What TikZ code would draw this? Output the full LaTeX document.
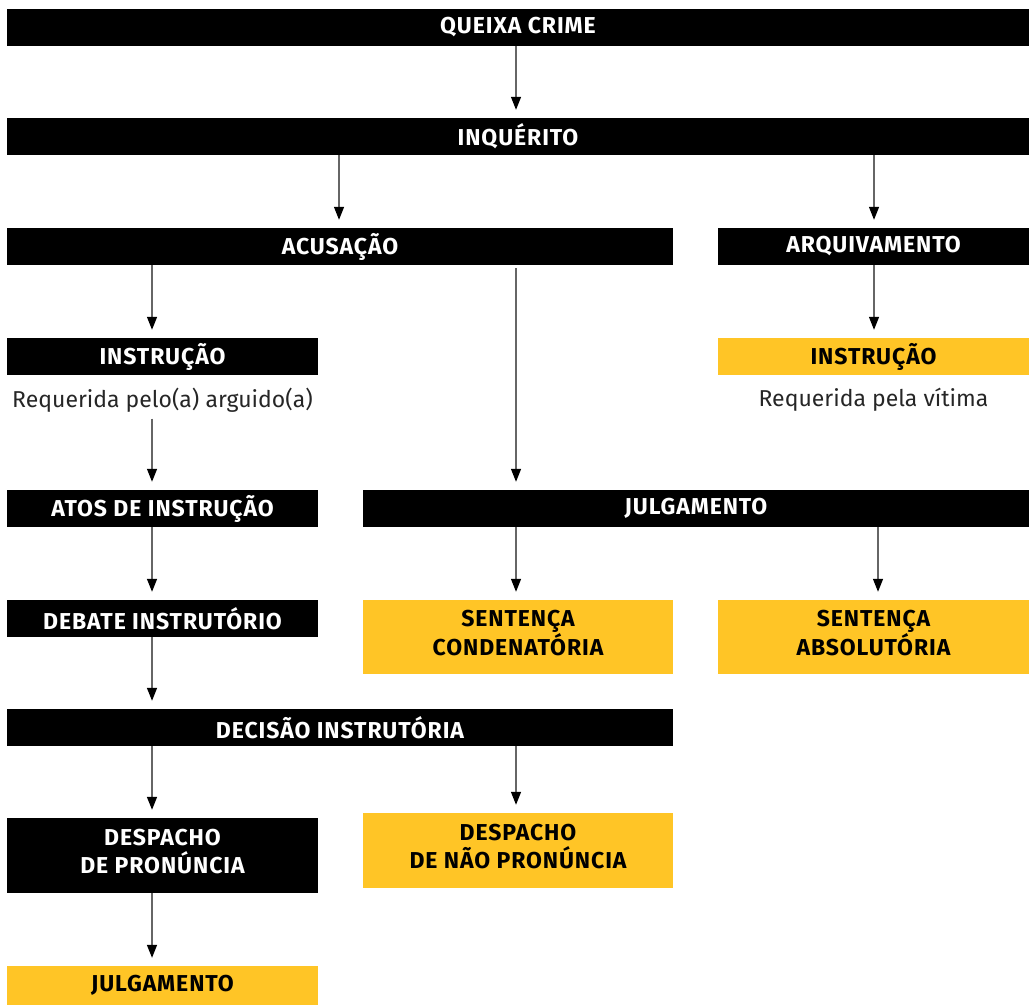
\documentclass[tikz,border=0pt]{standalone}
\usepackage{fontspec}
\setmainfont{Fira Sans}
\newfontfamily\negrito{Fira Sans}[LetterSpace=4]
\usetikzlibrary{arrows.meta}

\definecolor{amarelo}{HTML}{FFC526}
\definecolor{seta}{HTML}{666666}

\tikzset{
    caixa/.style={minimum height=37pt, inner sep=0pt, align=center,
        font=\negrito\fontsize{23}{28}\selectfont\bfseries},
    preta/.style={caixa, fill=black, text=white},
    amarela/.style={caixa, fill=amarelo, text=black},
    duas/.style={minimum height=74pt, text depth=8pt},
    nota/.style={font=\fontsize{23}{28}\selectfont, text=black!85},
    arr/.style={draw=seta, line width=1.3pt, shorten >=8pt,
        -{Triangle[length=13pt,width=10pt,color=black]}}
}

\begin{document}
\begin{tikzpicture}[x=1pt,y=-1pt]
    \useasboundingbox (0,0) rectangle (1030,1006);

    % colunas das setas
    \coordinate (c1) at (152,0);
    \coordinate (c2) at (339,0);
    \coordinate (c3) at (516,0);
    \coordinate (c4) at (874,0);
    \coordinate (c5) at (878,0);

    % caixas
    \node (queixa) at (518,27.5) [preta, minimum width=1022pt] {QUEIXA CRIME};
    \node (inq) at (518,136.5) [preta, minimum width=1022pt] {INQUÉRITO};
    \node (acus) at (340,246.5) [preta, minimum width=666pt] {ACUSAÇÃO};
    \node (arq) at (873.5,246.5) [preta, minimum width=311pt] {ARQUIVAMENTO};
    \node (instr) at (162.5,356.5) [preta, minimum width=311pt] {INSTRUÇÃO};
    \node (instrv) at (873.5,356.5) [amarela, minimum width=311pt] {INSTRUÇÃO};
    \node (req1) at (162.5,400) [nota] {Requerida pelo(a) arguido(a)};
    \node (req2) at (873.5,400) [nota] {Requerida pela vítima};
    \node (atos) at (162.5,508.5) [preta, minimum width=311pt] {ATOS DE INSTRUÇÃO};
    \node (julg) at (696,508.5) [preta, minimum width=666pt] {JULGAMENTO};
    \node (debate) at (162.5,618.5) [preta, minimum width=311pt] {DEBATE INSTRUTÓRIO};
    \node (sentc) at (518,637) [amarela, duas, minimum width=310pt] {SENTENÇA\\CONDENATÓRIA};
    \node (senta) at (873.5,637) [amarela, duas, minimum width=311pt] {SENTENÇA\\ABSOLUTÓRIA};
    \node (decisao) at (340,727.5) [preta, minimum width=666pt] {DECISÃO INSTRUTÓRIA};
    \node (desp) at (162.5,855.5) [preta, duas, minimum width=311pt, minimum height=75pt] {DESPACHO\\DE PRONÚNCIA};
    \node (naopron) at (518,850.5) [amarela, duas, minimum width=310pt, minimum height=75pt] {DESPACHO\\DE NÃO PRONÚNCIA};
    \node (julg2) at (162.5,985.5) [amarela, minimum width=311pt, minimum height=39pt] {JULGAMENTO};

    % setas
    \draw [arr] (queixa.south -| c3) -- (inq.north -| c3);
    \draw [arr] (inq.south -| c2) -- (acus.north -| c2);
    \draw [arr] (inq.south -| c4) -- (arq.north -| c4);
    \draw [arr] (acus.south -| c1) -- (instr.north -| c1);
    \draw [arr, shorten <=3pt] (acus.south -| c3) -- (julg.north -| c3);
    \draw [arr] (arq.south -| c4) -- (instrv.north -| c4);
    \draw [arr, shorten <=3pt] (req1.south -| c1) -- (atos.north -| c1);
    \draw [arr] (atos.south -| c1) -- (debate.north -| c1);
    \draw [arr] (julg.south -| c3) -- (sentc.north -| c3);
    \draw [arr] (julg.south -| c5) -- (senta.north -| c5);
    \draw [arr] (debate.south -| c1) -- (decisao.north -| c1);
    \draw [arr] (decisao.south -| c1) -- (desp.north -| c1);
    \draw [arr] (decisao.south -| c3) -- (naopron.north -| c3);
    \draw [arr] (desp.south -| c1) -- (julg2.north -| c1);
\end{tikzpicture}
\end{document}
